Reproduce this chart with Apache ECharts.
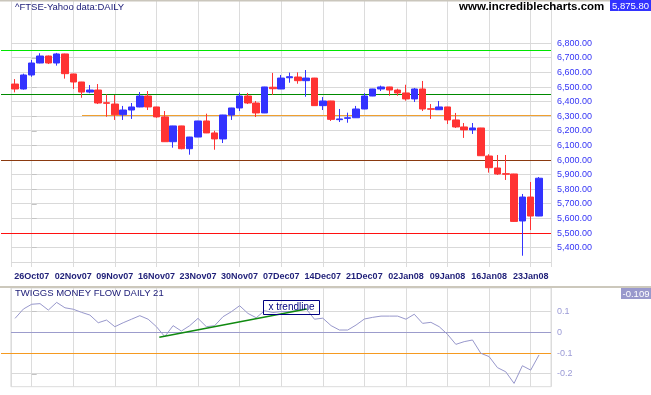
<!DOCTYPE html>
<html><head><meta charset="utf-8">
<script src="https://cdn.jsdelivr.net/npm/echarts@6/dist/echarts.min.js"></script>
<style>html,body{margin:0;padding:0;background:#fff}#c{width:651px;height:395px}</style>
</head><body><div id="c"></div>
<script>
const dates = ['24Oct07','25Oct07','26Oct07','29Oct07','30Oct07','31Oct07','01Nov07','02Nov07','05Nov07','06Nov07','07Nov07','08Nov07','09Nov07','12Nov07','13Nov07','14Nov07','15Nov07','16Nov07','19Nov07','20Nov07','21Nov07','22Nov07','23Nov07','26Nov07','27Nov07','28Nov07','29Nov07','30Nov07','03Dec07','04Dec07','05Dec07','06Dec07','07Dec07','10Dec07','11Dec07','12Dec07','13Dec07','14Dec07','17Dec07','18Dec07','19Dec07','20Dec07','21Dec07','24Dec07','27Dec07','28Dec07','31Dec07','02Jan08','03Jan08','04Jan08','07Jan08','08Jan08','09Jan08','10Jan08','11Jan08','14Jan08','15Jan08','16Jan08','17Jan08','18Jan08','21Jan08','22Jan08','23Jan08','24Jan08'];
const open  = [6521,6487,6583,6665,6713,6665,6727,6590,6535,6466,6480,6393,6384,6311,6343,6364,6439,6364,6296,6126,6234,6078,6158,6268,6186,6145,6309,6357,6439,6391,6323,6499,6487,6564,6569,6544,6562,6373,6405,6277,6286,6290,6350,6439,6487,6501,6480,6460,6419,6487,6352,6345,6364,6275,6227,6207,6220,6028,5946,5907,5905,5583,5747,5617];
const close = [6487,6583,6665,6713,6665,6727,6592,6535,6466,6480,6391,6389,6311,6343,6364,6439,6364,6296,6126,6234,6078,6158,6268,6186,6145,6309,6357,6439,6391,6323,6501,6489,6562,6571,6544,6562,6373,6405,6279,6282,6290,6350,6439,6487,6501,6480,6460,6419,6487,6350,6348,6364,6275,6227,6207,6220,6030,5948,5905,5903,5580,5747,5617,5875.8];
const low   = [6464,6483,6571,6663,6658,6647,6558,6487,6427,6458,6384,6297,6275,6275,6282,6362,6343,6290,6125,6085,6074,6037,6157,6185,6071,6117,6275,6336,6384,6295,6322,6446,6486,6530,6523,6434,6372,6343,6268,6261,6256,6289,6349,6438,6473,6441,6441,6407,6398,6336,6282,6344,6247,6220,6152,6179,6029,5914,5898,5864,5576,5345,5521,5616];
const high  = [6555,6592,6686,6732,6716,6734,6729,6591,6536,6514,6521,6451,6446,6371,6391,6466,6473,6365,6336,6235,6235,6159,6269,6318,6201,6310,6358,6462,6460,6405,6502,6597,6583,6599,6601,6617,6563,6432,6406,6350,6325,6371,6458,6488,6510,6502,6489,6516,6494,6542,6384,6405,6365,6323,6254,6254,6221,6040,6035,6035,5906,5768,5850,5884];
const tmf   = [0.067,0.112,0.135,0.138,0.107,0.144,0.118,0.111,0.096,0.083,0.046,0.059,0.027,0.046,0.063,0.080,0.063,0.027,-0.021,0.032,0.006,0.032,0.067,0.027,0.032,0.075,0.099,0.128,0.091,0.070,0.104,0.095,0.100,0.100,0.105,0.113,0.063,0.068,0.032,0.011,0.011,0.035,0.064,0.072,0.078,0.078,0.078,0.063,0.087,0.043,0.048,0.027,-0.010,-0.058,-0.045,-0.037,-0.101,-0.117,-0.170,-0.190,-0.246,-0.161,-0.182,-0.109];
const tickLabels = ['26Oct07','02Nov07','09Nov07','16Nov07','23Nov07','30Nov07','07Dec07','14Dec07','21Dec07','02Jan08','09Jan08','16Jan08','23Jan08'];
const priceTicks = [5400,5500,5600,5700,5800,5900,6000,6100,6200,6300,6400,6500,6600,6700,6800];
const priceGridLines = [5300].concat(priceTicks);
const tmfTicks = [-0.2,-0.1,0,0.1];
const tmfGridLines = [-0.2,0.1];
// horizontal reference levels
const priceLevelsFull = [[6750,'#00e600'],[6450,'#008a00'],[6000,'#8b3a10'],[5500,'#ff1010']];
const priceLevelPartial = {from:'05Nov07', value:6305, color:'#f0a030'};
const tmfLevelFull = {value:-0.1, color:'#f59a20'};
const tmfZero = {value:0, color:'#9c9ccc'};
const trend = [[15.34,-0.024],[33.06,0.112]];

const off = dates.indexOf(tickLabels[0]);
const X_MIN = -off - 0.5, X_MAX = 62.44, X_EXT = X_MIN - 1.19;
const P_MIN = 5267.8, P_MAX = 6850;
const M_MIN = -0.2619, M_MAX = 0.16;
const GRAY = '#dcdcdc';
const HGRAY = '#d9d9d9';
const FONT = 'Liberation Sans';

const candleData = dates.map((d,i)=>[i-off, open[i], close[i], low[i], high[i]]);
const tmfData = tmf.map((v,i)=>[i-off, v]);

function fmtPrice(r){ return r.toLocaleString('en-US',{minimumFractionDigits:2,maximumFractionDigits:2}); }

const xVert = (grid, showLabels) => ({
  gridIndex: grid, type:'value', min:X_MIN, max:X_MAX, minInterval:5, maxInterval:5,
  axisLine:{show:false}, axisTick:{show:false},
  axisLabel:{show:showLabels, margin:5, color:'#1e1e78', fontSize:9, fontWeight:'bold', fontFamily:FONT,
    formatter: v => { const r = Math.round(v); if (Math.abs(v-r)>1e-6) return ''; const d = dates[r+off]; return tickLabels.includes(d) ? d : ''; }},
  splitLine:{show:true, lineStyle:{color:GRAY, width:1}}
});
const xHidden = (grid) => ({gridIndex:grid, type:'value', min:X_MIN, max:X_MAX, show:false, splitLine:{show:false}});
const yHidden = (grid) => ({gridIndex:grid, type:'value', min:0, max:1, show:false, splitLine:{show:false}});

// crisp horizontal lines positioned through the axes' scales
function hLines(xi, yi, items, z){
  return {type:'custom', xAxisIndex:xi, yAxisIndex:yi, z:z, silent:true, clip:false,
    encode:{x:[0,1], y:2},
    data: items.map(it => [it.x0, it.x1, it.v]),
    renderItem: (params, api) => {
      const it = items[params.dataIndex];
      const a = api.coord([api.value(0), api.value(2)]);
      const b = api.coord([api.value(1), api.value(2)]);
      const y = Math.round(a[1] - 0.5) + 0.5;
      return {type:'line', shape:{x1:Math.round(a[0]), y1:y, x2:Math.round(b[0]), y2:y}, style:{stroke:it.color, lineWidth:1, fill:null}};
    }};
}

const priceGridItems = priceGridLines.map(v => ({x0:X_MIN, x1:X_MAX, v:v, color:HGRAY}));
const priceLevelItems = priceLevelsFull.map(([v,c]) => ({x0:X_EXT, x1:X_MAX, v:v, color:c}))
  .concat([{x0:dates.indexOf(priceLevelPartial.from)-off, x1:X_MAX, v:priceLevelPartial.value, color:priceLevelPartial.color}]);
const tmfGridItems = tmfGridLines.map(v => ({x0:X_MIN, x1:X_MAX, v:v, color:HGRAY}));
const tmfLevelItems = [{x0:X_MIN, x1:X_MAX, v:tmfZero.value, color:tmfZero.color},
                       {x0:X_EXT, x1:X_MAX, v:tmfLevelFull.value, color:tmfLevelFull.color}];

const chart = echarts.init(document.getElementById('c'), null, {renderer:'canvas'});
chart.setOption({
  animation:false,
  backgroundColor:'#fff',
  title:[
    {text:'^FTSE-Yahoo data:DAILY', left:15, top:2, padding:0, textStyle:{fontSize:9.5, fontWeight:'normal', color:'#20207a', fontFamily:FONT}},
    {text:'www.incrediblecharts.com', left:459, top:1, padding:0, textStyle:{fontSize:11.5, fontWeight:'bold', color:'#000', fontFamily:FONT}},
    {text:'TWIGGS MONEY FLOW DAILY 21', left:15, top:288.5, padding:0, textStyle:{fontSize:9.5, fontWeight:'normal', color:'#20207a', fontFamily:FONT}}
  ],
  grid:[
    {left:10.9, right:100, top:1, bottom:128},          // 0 vertical lines + date labels
    {left:10.9, right:100, top:36, bottom:128},         // 1 price
    {left:10.9, right:100, top:288, bottom:8.3, show:true, borderColor:GRAY, borderWidth:1, backgroundColor:'transparent'}, // 2 lower verticals
    {left:10.9, right:100, top:299.07, bottom:8.3}      // 3 money flow
  ],
  xAxis:[ xVert(0, true), xHidden(1), xVert(2, false), xHidden(3) ],
  yAxis:[
    yHidden(0),
    {gridIndex:1, type:'value', position:'right', min:P_MIN, max:P_MAX, minInterval:100, maxInterval:100, splitNumber:16,
     axisLine:{show:false},
     axisTick:{show:true, length:5, lineStyle:{color:'#c4c4c4'}, customValues:priceTicks},
     axisLabel:{margin:6, color:'#3535f5', fontSize:9, fontFamily:FONT,
       formatter: v => { const r = Math.round(v); return (Math.abs(v-r)<1e-6 && priceTicks.includes(r)) ? fmtPrice(r) : ''; }},
     splitLine:{show:false}},
    yHidden(2),
    {gridIndex:3, type:'value', position:'right', min:M_MIN, max:M_MAX, minInterval:0.1, maxInterval:0.1, splitNumber:4,
     axisLine:{show:false},
     axisTick:{show:true, length:5, lineStyle:{color:'#c4c4c4'}, customValues:tmfTicks},
     axisLabel:{margin:6, color:'#9a9ad6', fontSize:9, fontFamily:FONT,
       formatter: v => { const t = tmfTicks.find(t => Math.abs(t-v)<1e-6); return t===undefined ? '' : String(t); }},
     splitLine:{show:false}}
  ],
  series:[
    hLines(1, 1, priceGridItems, 0),
    hLines(1, 1, priceLevelItems, 1),
    {type:'candlestick', xAxisIndex:1, yAxisIndex:1, barWidth:7, z:5,
      dimensions:['x','open','close','lowest','highest'],
      encode:{x:'x', y:['open','close','lowest','highest']},
      data:candleData,
      itemStyle:{color:'#3333ff', color0:'#ff3333', borderColor:'#3333ff', borderColor0:'#ff3333', borderWidth:1}},
    hLines(3, 3, tmfGridItems, 0),
    hLines(3, 3, tmfLevelItems, 1),
    {type:'line', xAxisIndex:3, yAxisIndex:3, data:tmfData, symbol:'none', silent:true, z:3,
      lineStyle:{color:'#9898cc', width:1}},
    {type:'line', xAxisIndex:3, yAxisIndex:3, data:trend, symbol:'none', silent:true, z:4,
      lineStyle:{color:'#108a10', width:1.5}}
  ],
  graphic:[
    {type:'rect', shape:{x:0,y:0,width:651,height:1.5}, style:{fill:'#cac6bc'}, z:100},
    {type:'rect', shape:{x:0,y:286,width:651,height:2}, style:{fill:'#ccc8bc'}, z:100},
    {type:'rect', shape:{x:610,y:0,width:41,height:11}, style:{fill:'#3333ff'}, z:101},
    {type:'text', x:630.5, y:6, style:{text:fmtPrice(close[close.length-1]), fill:'#fff', font:'9.5px "Liberation Sans"', align:'center', verticalAlign:'middle'}, z:102},
    {type:'rect', shape:{x:621,y:288,width:30,height:11}, style:{fill:'#9999cc'}, z:101},
    {type:'text', x:636, y:294, style:{text:tmf[tmf.length-1].toFixed(3), fill:'#fff', font:'9.5px "Liberation Sans"', align:'center', verticalAlign:'middle'}, z:102},
    {type:'rect', shape:{x:263.5,y:300.5,width:56,height:14}, style:{fill:'none', stroke:'#000080', lineWidth:1}, z:101},
    {type:'text', x:291.5, y:307.5, style:{text:'x trendline', fill:'#000080', font:'10px "Liberation Sans"', align:'center', verticalAlign:'middle'}, z:102}
  ]
});
</script></body></html>
